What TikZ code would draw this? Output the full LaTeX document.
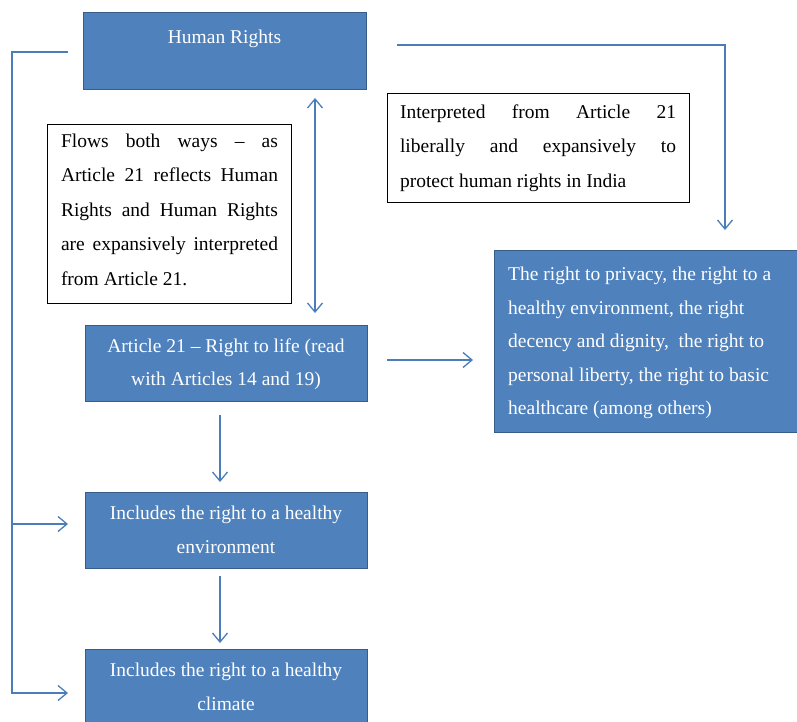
\documentclass[tikz,border=0pt]{standalone}
\usepackage{fontspec}
\setmainfont{Liberation Serif}
\usetikzlibrary{arrows.meta,calc}
\definecolor{boxblue}{HTML}{4F81BD}
\definecolor{boxedge}{HTML}{385D8A}
\definecolor{linkblue}{HTML}{4A7EBB}
\tikzset{
  bluebox/.style={draw=boxedge, line width=1.4pt, fill=boxblue, rectangle, inner sep=0pt, anchor=north west},
  whitebox/.style={draw=black, line width=1.3pt, fill=white, rectangle, inner sep=0pt, anchor=north west},
  wtext/.style={text=white, font=\fontsize{19.5}{33.5}\selectfont, inner sep=0pt, align=center},
  btext/.style={text=black, font=\fontsize{19.5}{34.5}\selectfont, inner sep=0pt, align=justify},
  link/.style={draw=linkblue, line width=1.3pt},
  arrowline/.style={link, -{Straight Barb[length=9pt,width=15pt,line width=1.3pt]}},
  dblarrow/.style={link, {Straight Barb[length=9pt,width=15pt,line width=1.3pt]}-{Straight Barb[length=9pt,width=15pt,line width=1.3pt]}}
}
\begin{document}
\begin{tikzpicture}[x=1pt,y=-1pt]
\useasboundingbox (0,0) rectangle (797,722);
\clip (0,0) rectangle (797,722);
\fill[white] (0,0) rectangle (797,722);

% boxes
\node[bluebox, minimum width=283pt, minimum height=77pt] (hr) at (83,12) {};
\node[whitebox, minimum width=244pt, minimum height=179pt] (flows) at (47,124) {};
\node[whitebox, minimum width=302pt, minimum height=109pt] (interp) at (387,93) {};
\node[bluebox, minimum width=282pt, minimum height=76pt] (art) at (85,325) {};
\node[bluebox, minimum width=320pt, minimum height=182pt] (rights) at (494,250) {};
\node[bluebox, minimum width=282pt, minimum height=76pt] (env) at (85,492) {};
\node[bluebox, minimum width=282pt, minimum height=80pt] (clim) at (85,649) {};

% texts
\node[wtext] (hrt) at (224.5,39) {Human Rights};
\node[btext, text width=217pt] (flowst) at (169.5,209.5) {Flows both ways -- as\linebreak Article 21 reflects Human\linebreak Rights and Human Rights\linebreak are expansively interpreted\linebreak from Article 21.};
\node[btext, text width=276pt] (interpt) at (538,148) {Interpreted from Article 21\linebreak liberally and expansively to\linebreak protect human rights in India};
\node[wtext] (artt) at (226,364) {Article 21 -- Right to life (read\\with Articles 14 and 19)};
\node[wtext, align=left, anchor=west] (rightst) at (508,343) {The right to privacy, the right to a\\healthy environment, the right\\decency and dignity,\ \ the right to\\personal liberty, the right to basic\\healthcare (among others)};
\node[wtext] (envt) at (226,530) {Includes the right to a healthy\\environment};
\node[wtext] (climt) at (226,687) {Includes the right to a healthy\\climate};

% connector points
\coordinate (lstart) at ($(hr.west |- 0,52)+(-15,0)$);
\coordinate (lcorner) at (12,52);
\coordinate (lmid) at (12,524);
\coordinate (lbot) at (12,693);
\coordinate (envin) at (68,524);
\coordinate (climin) at (68,693);
\coordinate (trstart) at (397,45);
\coordinate (trend) at (725,230);
\coordinate (dtop) at (315,98);
\coordinate (dbot) at (315,313);
\coordinate (arstart) at (387,360);
\coordinate (arend) at (473,360);
\coordinate (a1s) at (220,415);
\coordinate (a1e) at (220,482);
\coordinate (a2s) at (220,576);
\coordinate (a2e) at (220,643);

% connectors
\draw[arrowline] (lstart) -- (lcorner) -- (lbot) -- (climin);
\draw[arrowline] (lmid) -- (envin);
\draw[arrowline] (trstart) -| (trend);
\draw[dblarrow] (dtop) -- (dbot);
\draw[arrowline] (arstart) -- (arend);
\draw[arrowline] (a1s) -- (a1e);
\draw[arrowline] (a2s) -- (a2e);
\end{tikzpicture}
\end{document}
